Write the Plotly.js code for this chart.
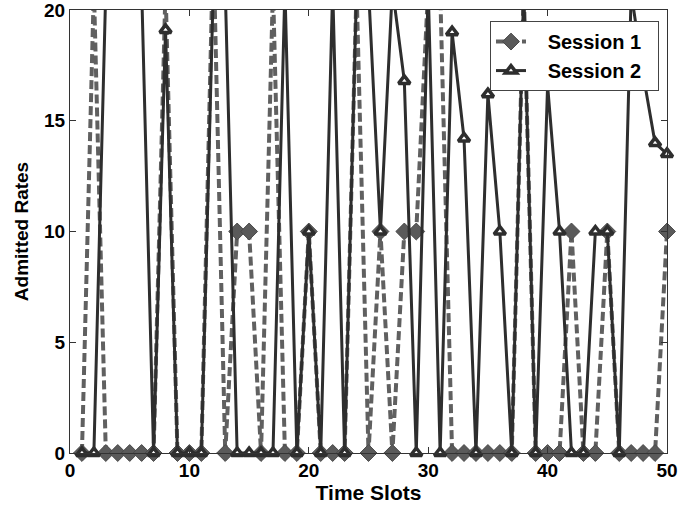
<!DOCTYPE html>
<html>
<head>
<meta charset="utf-8">
<script src="https://cdn.plot.ly/plotly-3.0.1.min.js"></script>
<style>
  html, body { margin: 0; padding: 0; background: #fff; }
  #chart { width: 678px; height: 508px; }
</style>
</head>
<body>
<div id="chart"></div>
<script>
// Time slots 1..50
var timeSlots = [1,2,3,4,5,6,7,8,9,10,11,12,13,14,15,16,17,18,19,20,21,22,23,24,25,26,27,28,29,30,31,32,33,34,35,36,37,38,39,40,41,42,43,44,45,46,47,48,49,50];

// Session 1 admitted rates (values above 20 run off the top of the axes)
var session1 = [0,21,0,0,0,0,0,21,0,0,0,23,0,10,10,0,21,0,0,10,0,0,0,21,0,10,0,10,10,21,21,0,0,0,0,0,0,21,0,0,0,10,0,0,10,0,0,0,0,10];

// Session 2 admitted rates
var session2 = [0,0,21,21,21,21,0,19.1,0,0,0,21,21,0,0,0,0,21,0,10,0,21,0,21,21,10,21,16.8,0,21,0,19.0,14.2,0,16.2,10,0,21,0,16.6,10,0,0,10,10,0,20.8,17.1,14.0,13.5];

var seriesNames = ['Session 1', 'Session 2'];
var xTickVals = [0,10,20,30,40,50];
var yTickVals = [0,5,10,15,20];

var pad = '\u00a0\u00a0\u00a0';
var padEnd = '\u00a0\u00a0';
var FONT = 'Liberation Sans, Arial, sans-serif';

var traces = [
  {
    x: timeSlots, y: session1, name: pad + seriesNames[0] + padEnd, type: 'scatter', mode: 'lines+markers',
    cliponaxis: false,
    line: {color: '#606060', width: 4, dash: '9px,4px'},
    marker: {symbol: 'diamond', size: 13, color: '#5a5a5a', line: {color: '#4a4a4a', width: 1}}
  },
  {
    x: timeSlots, y: session2, name: pad + seriesNames[1] + padEnd, type: 'scatter', mode: 'lines+markers',
    cliponaxis: false,
    line: {color: '#2e2e2e', width: 3},
    marker: {symbol: 'triangle-up', size: 10, color: '#ffffff', line: {color: '#2e2e2e', width: 3.5}}
  }
];

var layout = {
  width: 678, height: 508,
  margin: {l: 70, r: 11, t: 10, b: 55},
  paper_bgcolor: '#fff', plot_bgcolor: '#fff',
  showlegend: true,
  font: {family: FONT, color: '#000'},
  xaxis: {
    range: [0, 50], tickvals: xTickVals, ticktext: xTickVals.map(String),
    ticks: 'inside', ticklen: 6, tickcolor: '#333', tickwidth: 1,
    showline: true, linecolor: '#333', linewidth: 1, mirror: 'ticks',
    showgrid: false, zeroline: false, ticklabeloverflow: 'allow',
    tickfont: {family: FONT, size: 19, color: '#000', weight: 'bold'},
    title: {text: '<b>Time Slots</b>', font: {family: FONT, size: 21, color: '#000'}, standoff: 3}
  },
  yaxis: {
    range: [0, 20], tickvals: yTickVals, ticktext: yTickVals.map(String),
    ticks: 'inside', ticklen: 6, tickcolor: '#333', tickwidth: 1,
    showline: true, linecolor: '#333', linewidth: 1, mirror: 'ticks',
    showgrid: false, zeroline: false, ticklabeloverflow: 'allow',
    tickfont: {family: FONT, size: 19, color: '#000', weight: 'bold'},
    title: {text: '<b>Admitted Rates</b>', font: {family: FONT, size: 19, color: '#000'}, standoff: 10}
  },
  legend: {
    x: 0.7035, y: 0.975, xanchor: 'left', yanchor: 'top',
    bgcolor: '#fff', bordercolor: '#444', borderwidth: 1,
    font: {family: FONT, size: 20, color: '#000', weight: 'bold'},
    tracegroupgap: 0
  }
};

Plotly.newPlot('chart', traces, layout, {displayModeBar: false, staticPlot: true});
</script>
</body>
</html>
